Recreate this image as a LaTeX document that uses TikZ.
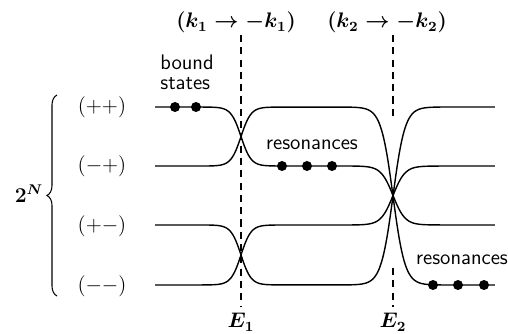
\documentclass[tikz,border=0pt]{standalone}
\usepackage{amsmath, amssymb}
\usepackage{tikz}
\usetikzlibrary{decorations.pathreplacing}

\begin{document}
\begin{tikzpicture}[x=0.02cm, y=-0.02cm,
  declare function={sig(\p,\e,\w)=(1+tanh(max(-4,min(4,(\p-\e)/\w))))/2;},
  levelline/.style={line width=0.8pt},
  cutline/.style={line width=1pt, dash pattern=on 4pt off 3pt},
  statedot/.style={circle, fill, inner sep=0pt, minimum size=2mm},
  sflabel/.style={font=\large\sffamily, inner sep=0pt},
  mathlabel/.style={font=\large\boldmath},
  rowlabel/.style={font=\large}]
\useasboundingbox (0,0) rectangle (508,334);
% thresholds
\node[mathlabel, anchor=base] (kone) at (236,28) {$(k_1\rightarrow -k_1)$};
\node[mathlabel, anchor=base] (ktwo) at (387,28) {$(k_2\rightarrow -k_2)$};
\node[mathlabel, anchor=base] (Eone) at (241,328) {$E_1$};
\node[mathlabel, anchor=base] (Etwo) at (393,328) {$E_2$};
\coordinate (Eonetop) at (241,35);
\coordinate (Etwotop) at (393,35);
\coordinate (Etwomid) at (393,120);
\coordinate (Etwolow) at (393,268);
\draw[cutline] (Eonetop) -- (Eone);
\draw[cutline] (Etwotop) -- (Etwomid);
\draw[cutline] (Etwolow) -- (Etwo);
% channels
\node[rowlabel] (rowpp) at (102,107) {$(++)$};
\node[rowlabel] (rowmp) at (102,166) {$(-+)$};
\node[rowlabel] (rowpm) at (102,226) {$(+-)$};
\node[rowlabel] (rowmm) at (102,286) {$(--)$};
\draw[line width=0.6pt, decorate, decoration={brace, amplitude=2mm}] (57,296) -- (57,95);
\node[mathlabel] (twoN) at (29,194) {$2^N$};
% levels: start / after E1 / after E2
\foreach \a/\b/\c in {107/166/225, 166/107/285, 225/285/107, 285/225/166}
  \draw[levelline] plot[domain=155:495, samples=300]
    (\x, {\a+(\b-\a)*sig(\x,241,10)+(\c-\b)*sig(\x,393,12)});
% states
\node[sflabel, anchor=north west, align=left] (bound) at (160,55) {bound\\[-3pt]states};
\node[statedot] (bone) at (175,107) {};
\node[statedot] (btwo) at (196,107) {};
\node[sflabel] (resone) at (312,145) {resonances};
\node[statedot] (rone) at (282,166) {};
\node[statedot] (rtwo) at (307,166) {};
\node[statedot] (rthree) at (332,166) {};
\node[sflabel] (restwo) at (462,260) {resonances};
\node[statedot] (sone) at (433,285) {};
\node[statedot] (stwo) at (458,285) {};
\node[statedot] (sthree) at (484,285) {};
\end{tikzpicture}
\end{document}
